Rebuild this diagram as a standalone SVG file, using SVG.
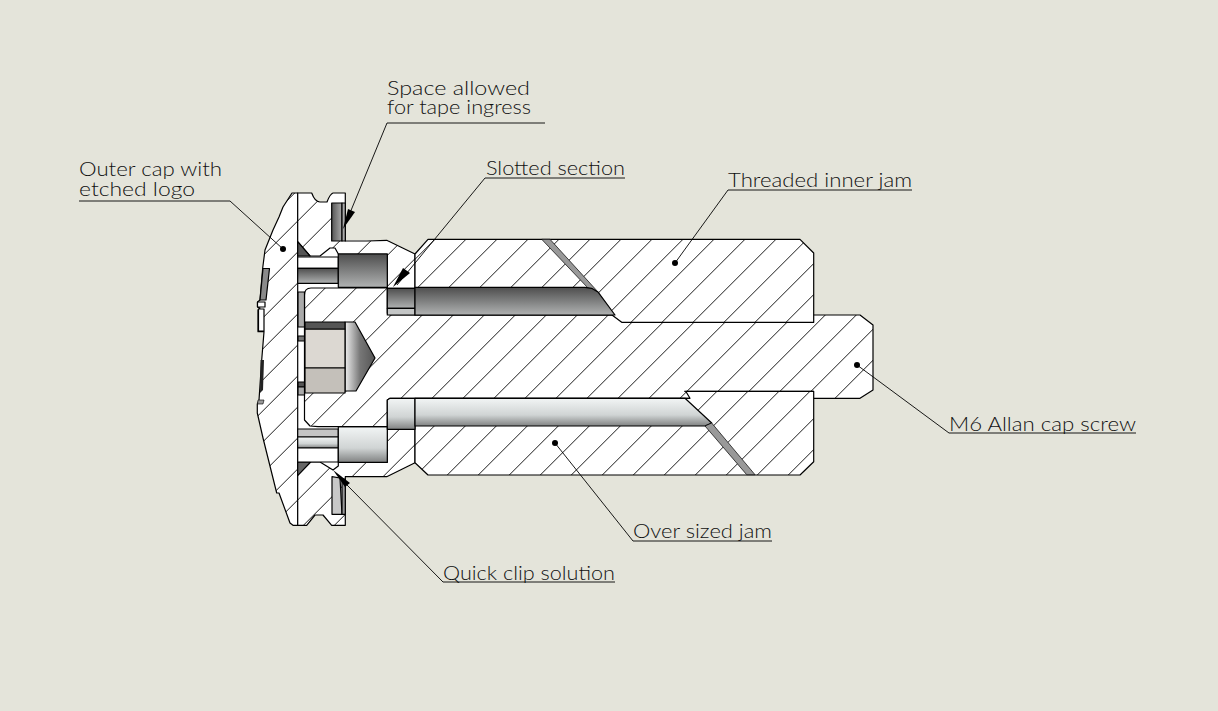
<svg xmlns="http://www.w3.org/2000/svg" width="1218" height="711" viewBox="0 0 1218 711">
<style>
.o{stroke:#000;stroke-width:1.2;stroke-linejoin:round}
.b{fill:#fff}
.cap{fill:url(#hc)}
.jam{fill:url(#hj)}
.scr{fill:url(#hs)}
.l{fill:none;stroke:#000;stroke-width:.9}
.d{fill:#000}
.t{font-family:"Lato","Liberation Sans",sans-serif;font-weight:300;font-size:19px;fill:#111}
</style>
<defs>
<pattern id="hc" patternUnits="userSpaceOnUse" width="31" height="31" x="22.7"><rect width="31" height="31" fill="#fff"/><path d="M-1 32L32 -1M-1 1L1 -1M30 32L32 30" stroke="#000" stroke-width=".9"/></pattern>
<pattern id="hj" patternUnits="userSpaceOnUse" width="31" height="31" x="23.3"><rect width="31" height="31" fill="#fff"/><path d="M-1 32L32 -1M-1 1L1 -1M30 32L32 30" stroke="#000" stroke-width=".9"/></pattern>
<pattern id="hs" patternUnits="userSpaceOnUse" width="31" height="31" x="24.3"><rect width="31" height="31" fill="#fff"/><path d="M-1 32L32 -1M-1 1L1 -1M30 32L32 30" stroke="#000" stroke-width=".9"/></pattern>
<linearGradient id="gd" x1="0" y1="0" x2="0" y2="1"><stop offset="0" stop-color="#4e4e4e"/><stop offset="1" stop-color="#b0b2b2"/></linearGradient>
<linearGradient id="gl" x1="0" y1="0" x2="0" y2="1"><stop offset="0" stop-color="#f2f5f5"/><stop offset=".6" stop-color="#d0d4d4"/><stop offset="1" stop-color="#808282"/></linearGradient>
<linearGradient id="gh" x1="0" y1="0" x2="1" y2="0"><stop offset="0" stop-color="#555"/><stop offset="1" stop-color="#aaa"/></linearGradient>
<linearGradient id="gc" x1="0" y1="0" x2="1" y2="0"><stop offset="0" stop-color="#eee"/><stop offset=".5" stop-color="#777"/><stop offset="1" stop-color="#555"/></linearGradient>
</defs>
<rect width="1218" height="711" fill="#e4e4da"/>

<g id="outer-cap">
<rect class="b" x="297" y="240" width="92" height="230"/>
<path class="o cap" d="M297.7 193H292L283 207L279 217L273 230L265 250L262.7 268L260 300L257.5 302V307L260 308L258 310V331.7H264L261.7 360L259 400L257.3 404V413L263 438L276.7 493H279L290 523L293 525.3H297.7Z"/>
<path class="o" fill="#8a8a8a" d="M263 268.5H269.5L266 300H260Z"/>
<path class="o b" d="M257.5 302H265V307H257.5ZM258.5 309H264V331H258.5Z"/>
<path fill="#222" d="M260.5 360L264 360L263 390L260 393Z"/>
<path fill="#999" stroke="#000" stroke-width=".6" d="M258 400H264L263 404H257.5Z"/>
<path class="o cap" d="M297.7 193H311.7Q315 202 320 202H327Q330 194 333 193H345.3V241H366.7L386.7 240.3L415 254V288.3H387.3V254H338.3L335 248H330L320 256H310L297.7 241.7Z"/>
<path class="o cap" d="M297.7 525.3H306.7L315 515H323L331.7 525.3H345.3V476.7H386.7L415 462.7V429.3H387.3V462.3H338.3V466L333 470L320 462H297.7Z"/>
<path class="o" fill="url(#gh)" d="M331.7 203H342V241H331.7Z"/>
<path class="o" fill="#aaa" d="M342 203H345.3V241H342Z"/>
<path class="o" fill="#c8c8c8" d="M332 476.7L340 478L342 514.3H332Z"/>
<path class="o" fill="#999" d="M342 479H345.3V514.3H342Z"/>
<path class="o" fill="#555" d="M297.7 241.7L310 256H297.7Z"/>
<path class="o" fill="#666" d="M297.7 462H310.7L297.7 475.7Z"/>
<rect class="o b" x="297.7" y="257" width="40.6" height="11.3"/>
<rect class="o" fill="url(#gd)" x="297.7" y="268.3" width="40.6" height="15"/>
<rect class="o" fill="url(#gd)" x="338.3" y="254" width="49" height="33.3"/>
<rect class="o" fill="#c4c4c4" x="297.7" y="429" width="40.6" height="8"/>
<rect class="o" fill="url(#gl)" x="297.7" y="437" width="40.6" height="11"/>
<rect class="o b" x="297.7" y="448" width="40.6" height="14"/>
<rect class="o" fill="url(#gl)" x="338.3" y="426.7" width="49" height="35.6"/>
</g>

<g id="cap-screw">
<path class="o scr" d="M304.5 295Q304.5 288 311 288H387.3V313.3L390 315H860L873 325V390L860 398.3H390L387.3 400V426.7H318L310 426L304.5 420Z"/>
<rect class="o" fill="#aaa" x="298" y="292" width="6.5" height="35"/>
<rect class="o" fill="#777" x="298" y="336" width="6.5" height="5"/>
<rect class="o" fill="#555" x="298" y="382" width="6.5" height="5"/>
<rect class="o" fill="#aaa" x="298" y="387" width="6.5" height="8"/>
<path class="o" fill="url(#gc)" d="M345 322H355L375 358L356 391H345Z"/>
<path class="o" fill="#dcd8d2" d="M305 329H345V368H305Z"/>
<path class="o" fill="#c4c0ba" d="M305 368H345V393H305Z"/>
<path class="o" fill="#555" d="M305 322H345V329H305Z"/>
</g>

<g id="inner-jam">
<path class="o jam" d="M415 254L428 239.3H800L813.7 253V322.3H621.7L612 315H415Z"/>
<rect class="o" fill="url(#gd)" x="387.3" y="288.3" width="27.7" height="20"/>
<rect class="o" fill="#c4c6c6" x="387.3" y="308.3" width="27.7" height="6.7"/>
<path fill="#999" stroke="#000" stroke-width=".7" d="M541.7 239.3H550L598.3 292.3L588 288Z"/>
<path class="o" fill="url(#gd)" d="M415 287.3H585L591.7 288.3L598.3 292.3L615 315H415Z"/>
</g>

<g id="over-jam">
<path class="o jam" d="M415 462.7L428 475H800L813.7 461.7V391.3H685.7L690 398.3H415Z"/>
<path class="o" fill="url(#gl)" d="M387.3 400L390 398.3H415V429.3H387.3Z"/>
<path class="o" fill="url(#gl)" d="M415 398.3H685L711.7 423L705 426H415Z"/>
<path fill="#999" stroke="#000" stroke-width=".7" d="M705 426L711.7 423L755 474.7H746.7Z"/>
<path class="l" stroke-width="1.2" d="M684 391.3H813.7"/>
</g>

<g id="connectors">
<path class="l" d="M79 201H230L283 249"/><circle class="d" cx="283" cy="249" r="3"/>
<path class="l" d="M545 123H387L345 225"/><path class="d" d="M343 229L348 209L355 212Z"/>
<path class="l" d="M625 178H485L397 285"/><path class="d" d="M393 287L403 268L410 273Z"/>
<path class="l" d="M912 190H728L675 263"/><circle class="d" cx="675" cy="263" r="3"/>
<path class="l" d="M1136 433H949L857 365"/><circle class="d" cx="857" cy="365" r="3"/>
<path class="l" d="M772 541H633L555 443"/><circle class="d" cx="555" cy="443" r="3"/>
<path class="l" d="M615 582H443L347 485"/><path class="d" d="M333 470L350 483L345 487Z"/>
</g>

<g id="labels">
<text class="t" x="387" y="95" textLength="143" lengthAdjust="spacingAndGlyphs">Space allowed</text>
<text class="t" x="387" y="114" textLength="144" lengthAdjust="spacingAndGlyphs">for tape ingress</text>
<text class="t" x="79" y="176" textLength="143" lengthAdjust="spacingAndGlyphs">Outer cap with</text>
<text class="t" x="79" y="196" textLength="116" lengthAdjust="spacingAndGlyphs">etched logo</text>
<text class="t" x="486" y="175" textLength="139" lengthAdjust="spacingAndGlyphs">Slotted section</text>
<text class="t" x="728" y="187" textLength="184" lengthAdjust="spacingAndGlyphs">Threaded inner jam</text>
<text class="t" x="949" y="431" textLength="187" lengthAdjust="spacingAndGlyphs">M6 Allan cap screw</text>
<text class="t" x="633" y="538" textLength="139" lengthAdjust="spacingAndGlyphs">Over sized jam</text>
<text class="t" x="443" y="580" textLength="172" lengthAdjust="spacingAndGlyphs">Quick clip solution</text>
</g>
</svg>
